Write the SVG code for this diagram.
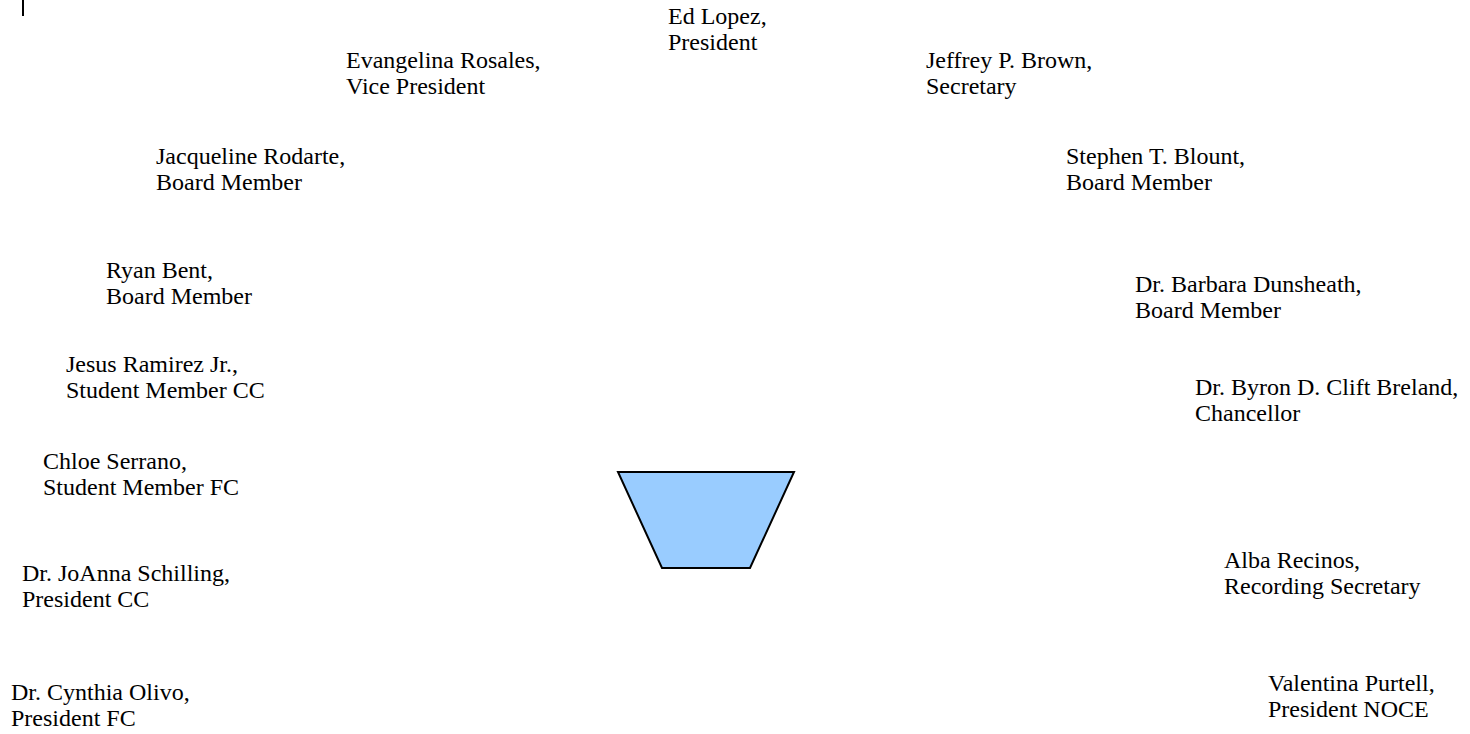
<svg xmlns="http://www.w3.org/2000/svg" width="1470" height="734" viewBox="0 0 1470 734">
<style>
text{font-family:"Liberation Serif","Times New Roman",serif;font-size:24px;fill:#000}
.shape{fill:#99ccff;stroke:#000;stroke-width:2}
</style>
<rect width="1470" height="734" fill="#fff"/>
<line x1="23" y1="0" x2="23" y2="16" stroke="#000" stroke-width="2"/>
<g id="n-lopez"><text x="668" y="23.5">Ed Lopez,</text><text x="668" y="50">President</text></g>
<g id="n-rosales"><text x="346" y="67.5">Evangelina Rosales,</text><text x="346" y="93.5">Vice President</text></g>
<g id="n-brown"><text x="926" y="67.5">Jeffrey P. Brown,</text><text x="926" y="93.5">Secretary</text></g>
<g id="n-rodarte"><text x="156" y="163.5">Jacqueline Rodarte,</text><text x="156" y="189.5">Board Member</text></g>
<g id="n-blount"><text x="1066" y="163.5">Stephen T. Blount,</text><text x="1066" y="189.5">Board Member</text></g>
<g id="n-bent"><text x="106" y="278">Ryan Bent,</text><text x="106" y="304">Board Member</text></g>
<g id="n-dunsheath"><text x="1135" y="292">Dr. Barbara Dunsheath,</text><text x="1135" y="318">Board Member</text></g>
<g id="n-ramirez"><text x="66" y="372">Jesus Ramirez Jr.,</text><text x="66" y="398">Student Member CC</text></g>
<g id="n-breland"><text x="1195" y="395">Dr. Byron D. Clift Breland,</text><text x="1195" y="421">Chancellor</text></g>
<g id="n-serrano"><text x="43" y="469">Chloe Serrano,</text><text x="43" y="495">Student Member FC</text></g>
<g id="n-schilling"><text x="22" y="581">Dr. JoAnna Schilling,</text><text x="22" y="607">President CC</text></g>
<g id="n-recinos"><text x="1224" y="568">Alba Recinos,</text><text x="1224" y="594">Recording Secretary</text></g>
<g id="n-olivo"><text x="11" y="700">Dr. Cynthia Olivo,</text><text x="11" y="726">President FC</text></g>
<g id="n-purtell"><text x="1268" y="691">Valentina Purtell,</text><text x="1268" y="717">President NOCE</text></g>
<g id="shape"><polygon class="shape" points="618,472 794,472 750,568 662,568"/></g>
<g id="connectors"></g>
</svg>
